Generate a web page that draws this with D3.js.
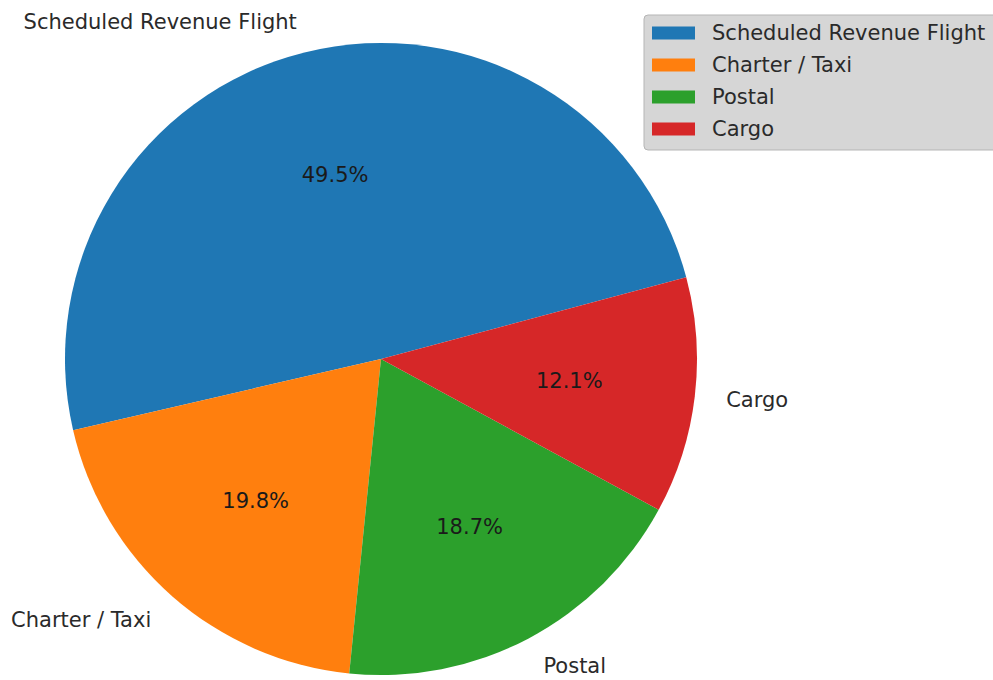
<!DOCTYPE html>
<html><head><meta charset="utf-8">
<script src="https://cdn.jsdelivr.net/npm/d3@7"></script>
<style>body{margin:0;background:#fff;} svg{display:block;}</style>
</head><body>
<svg id="c" width="993" height="680"></svg>
<script>
const categories = ["Scheduled Revenue Flight", "Charter / Taxi", "Postal", "Cargo"];
const values = [49.5, 19.8, 18.7, 12.1];
const colors = ["#1f77b4", "#ff7f0e", "#2ca02c", "#d62728"];

const W = 993, H = 680;
const cx = 381, cy = 359, R = 316;
const startDeg = 15;
const fontSize = 21;
const font = "DejaVu Sans, sans-serif";
const svg = d3.select("#c");

const total = d3.sum(values);
const pie = d3.pie().sort(null).value(d => d)
  .startAngle((90 - startDeg) * Math.PI / 180)
  .endAngle((90 - startDeg - 360) * Math.PI / 180);
const arcs = pie(values);
const arc = d3.arc().innerRadius(0).outerRadius(R);
const color = d3.scaleOrdinal().domain(categories).range(colors);

const g = svg.append("g").attr("transform", `translate(${cx},${cy})`);
g.selectAll("path").data(arcs).join("path")
  .attr("d", arc)
  .attr("fill", (d, i) => color(categories[i]));

function mid(d) { return (d.startAngle + d.endAngle) / 2; }
g.selectAll("text.lab").data(arcs).join("text")
  .attr("class", "lab")
  .attr("x", d => 1.1 * R * Math.sin(mid(d)))
  .attr("y", d => -1.1 * R * Math.cos(mid(d)))
  .attr("text-anchor", d => Math.sin(mid(d)) > 0 ? "start" : "end")
  .attr("dominant-baseline", "central")
  .attr("font-family", font).attr("font-size", fontSize)
  .attr("fill", "#2a2a2a")
  .text((d, i) => categories[i]);

const fmt = d3.format(".1f");
g.selectAll("text.pct").data(arcs).join("text")
  .attr("class", "pct")
  .attr("x", d => 0.6 * R * Math.sin(mid(d)))
  .attr("y", d => -0.6 * R * Math.cos(mid(d)))
  .attr("text-anchor", "middle")
  .attr("dominant-baseline", "central")
  .attr("font-family", font).attr("font-size", fontSize)
  .attr("fill", "#1a1a1a")
  .text(d => fmt(d.value / total * 100) + "%");

// legend
const lg = svg.append("g");
lg.append("rect").attr("x", 644).attr("y", 15).attr("width", 360).attr("height", 135)
  .attr("rx", 4).attr("fill", "#d6d6d6").attr("stroke", "#b5b5b5").attr("stroke-width", 1);
const rowY = d3.scalePoint().domain(categories).range([33, 129]);
lg.selectAll("rect.sw").data(categories).join("rect")
  .attr("class", "sw")
  .attr("x", 652).attr("y", d => rowY(d) - 6.5).attr("width", 43).attr("height", 13)
  .attr("fill", d => color(d));
lg.selectAll("text").data(categories).join("text")
  .attr("x", 712).attr("y", d => rowY(d))
  .attr("dominant-baseline", "central")
  .attr("font-family", font).attr("font-size", fontSize)
  .attr("fill", "#2a2a2a")
  .text(d => d);
</script>
</body></html>
